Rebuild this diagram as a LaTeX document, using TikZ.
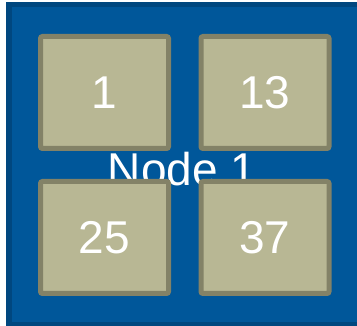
\documentclass[tikz,border=0pt]{standalone}
\usepackage{fontspec}
\setmainfont{Liberation Sans}
\usepackage{xcolor}
\usepackage{tikz}
\usetikzlibrary{positioning}
\definecolor{outerF}{HTML}{00579A}
\definecolor{outerD}{HTML}{00477F}
\definecolor{cellF}{HTML}{B8B794}
\definecolor{cellD}{HTML}{838267}
\tikzset{
  cell/.style={draw=cellD,fill=cellF,line width=5pt,rounded corners=2pt,
    minimum width=128pt,minimum height=112pt,inner sep=0pt,
    text=white,font=\fontsize{46}{46}\selectfont},
  outerbox/.style={draw=outerD,fill=outerF,line width=5.5pt}
}

\begin{document}
\begin{tikzpicture}[x=1pt,y=-1pt]
\useasboundingbox (0,0) rectangle (357,326);
\clip (0,0) rectangle (357,326);
\draw[outerbox] (8.75,4.75) rectangle (365,324.5);
\node[text=white,font=\fontsize{46}{46}\selectfont,inner sep=0pt] (lbl) at (182,169) {Node 1};
\node[cell] (c1) at (104.5,92.5) {1};
\node[cell] (c13) at (265,92.5) {13};
\node[cell] (c25) at (104.5,237.5) {25};
\node[cell] (c37) at (265,237.5) {37};
\end{tikzpicture}
\end{document}
